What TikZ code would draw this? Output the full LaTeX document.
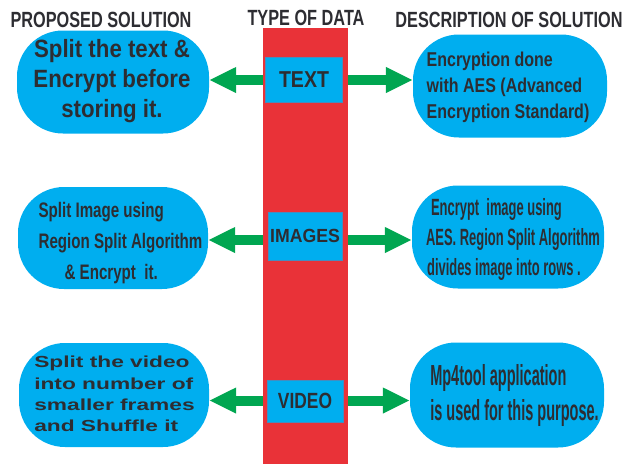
\documentclass[tikz,border=0pt]{standalone}
\usepackage{fontspec}
\setmainfont{Liberation Sans}
\newfontfamily\fsTitle[FakeStretch=0.74]{Liberation Sans}
\newfontfamily\fsTL[FakeStretch=0.89]{Liberation Sans}
\newfontfamily\fsTR[FakeStretch=0.80]{Liberation Sans}
\newfontfamily\fsML[FakeStretch=0.72]{Liberation Sans}
\newfontfamily\fsMR[FakeStretch=0.55]{Liberation Sans}
\newfontfamily\fsBL[FakeStretch=1.42]{Liberation Sans}
\newfontfamily\fsBR[FakeStretch=0.50]{Liberation Sans}
\newfontfamily\fsBoxT[FakeStretch=0.85]{Liberation Sans}
\newfontfamily\fsBoxI[FakeStretch=0.93]{Liberation Sans}
\newfontfamily\fsBoxV[FakeStretch=0.79]{Liberation Sans}
\usetikzlibrary{arrows.meta}
\definecolor{barred}{RGB}{233,50,56}
\definecolor{blobcyan}{RGB}{0,174,239}
\definecolor{arrgreen}{RGB}{0,166,81}
\definecolor{txtgray}{RGB}{45,45,50}
\definecolor{boxline}{RGB}{70,140,190}
\begin{document}
\begin{tikzpicture}[x=1pt,y=-1pt,
  title/.style={text=txtgray,font=\fsTitle\bfseries\fontsize{22}{24}\selectfont,inner sep=0pt},
  blob/.style={fill=blobcyan,rounded corners=46pt,minimum width=192pt,minimum height=103pt,inner sep=0pt},
  btext/.style={text=txtgray,inner sep=0pt},
  databox/.style={fill=blobcyan,draw=boxline,line width=0.6pt,minimum width=77pt,minimum height=45pt,text=txtgray,inner sep=0pt},
  databar/.style={fill=barred,minimum width=85pt,minimum height=436pt,inner sep=0pt},
  garrow/.style={draw=arrgreen,line width=10pt,-{Triangle[length=27pt,width=24pt]}}
]
\useasboundingbox (0,0) rectangle (625,464);
\node[databar] (bar) at (305.5,246) {};
\node[title] (t1) at (101,20) {PROPOSED SOLUTION};
\node[title] (t2) at (306,18) {TYPE OF DATA};
\node[title] (t3) at (509,20) {DESCRIPTION OF SOLUTION};

\node[databox,font=\fsBoxT\bfseries\fontsize{23}{24}\selectfont] (tbox) at (304,80) {TEXT};
\node[databox,minimum width=74pt,minimum height=48pt,font=\fsBoxI\bfseries\fontsize{19}{22}\selectfont] (ibox) at (305,236) {IMAGES};
\node[databox,minimum width=76pt,minimum height=42pt,font=\fsBoxV\bfseries\fontsize{22}{24}\selectfont] (vbox) at (305,401) {VIDEO};

\node[blob] (tl) at (113,82) {};
\node[blob,minimum width=194pt] (tr) at (510,86) {};
\node[blob,minimum width=190pt,minimum height=102pt] (ml) at (113,238) {};
\node[blob] (mr) at (508,237) {};
\node[blob,minimum width=190pt,minimum height=104pt] (bl) at (114,395) {};
\node[blob,minimum width=194pt,minimum height=105pt] (br) at (507,395) {};

\node[btext,align=center,font=\fsTL\bfseries\fontsize{25}{30}\selectfont] (tlt) at (112,81.5)
  {Split the text \&\\Encrypt before\\storing it.};
\node[btext,align=left,font=\fsTR\bfseries\fontsize{20}{26}\selectfont] (trt) at (508,87.7)
  {Encryption done\\with AES (Advanced\\Encryption Standard)};
\node[btext,align=left,font=\fsML\bfseries\fontsize{21}{31}\selectfont] (mlt) at (120.5,243.5)
  {Split Image using\\Region Split Algorithm\\\hspace*{26pt}\& Encrypt\ \ it.};
\node[btext,align=left,font=\fsMR\bfseries\fontsize{23.5}{30}\selectfont] (mrt) at (513,239)
  {\hspace*{5pt}Encrypt\ \ image using\\AES. Region Split Algorithm\\\hspace*{1pt}divides image into rows .};
\node[btext,align=left,font=\fsBL\bfseries\fontsize{16}{21.3}\selectfont] (blt) at (114.5,394)
  {Split the video\\into number of\\smaller frames\\and Shuffle it};
\node[btext,align=left,font=\fsBR\bfseries\fontsize{29}{35}\selectfont] (brt) at (514.5,395)
  {Mp4tool application\\is used for this purpose.};

\coordinate (ya) at (0,80);
\coordinate (yb) at (0,240);
\coordinate (yc) at (0,400.5);
\draw[garrow] (bar.west |- ya) -- (tl.east |- ya);
\draw[garrow] (bar.east |- ya) -- (tr.west |- ya);
\draw[garrow] (bar.west |- yb) -- (ml.east |- yb);
\draw[garrow] (bar.east |- yb) -- (mr.west |- yb);
\draw[garrow] (bar.west |- yc) -- (bl.east |- yc);
\draw[garrow] (bar.east |- yc) -- (br.west |- yc);
\end{tikzpicture}
\end{document}
